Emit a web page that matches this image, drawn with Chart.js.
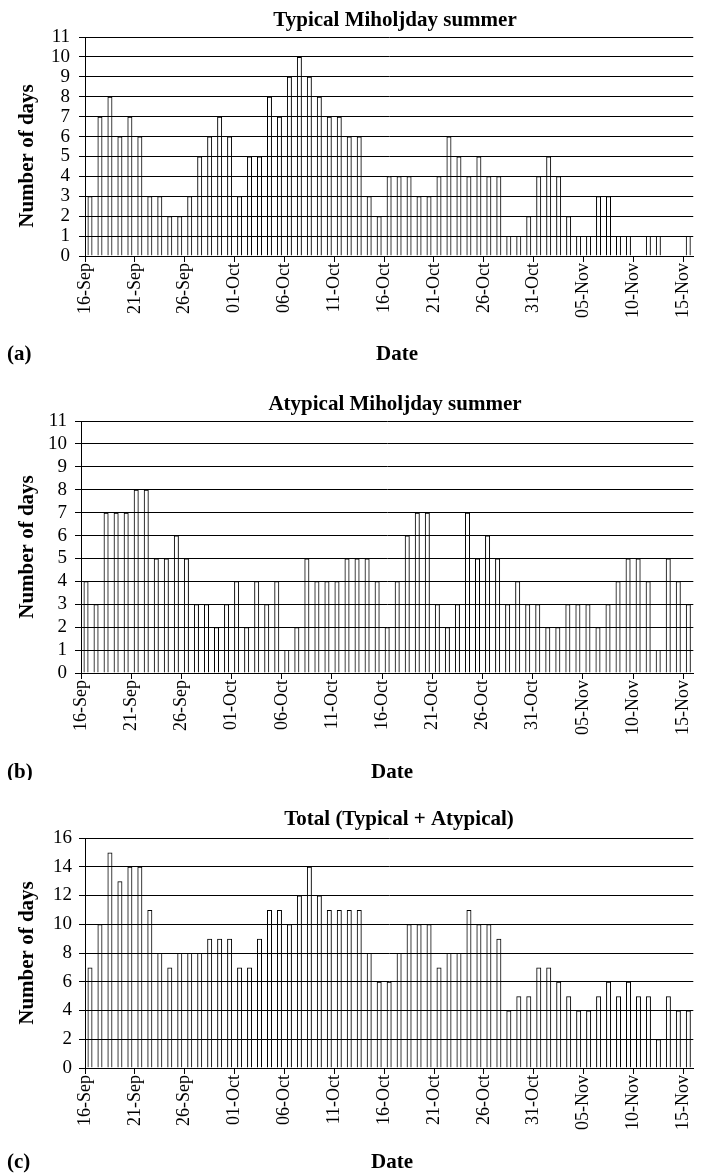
<!DOCTYPE html>
<html>
<head>
<meta charset="utf-8">
<script src="https://cdn.jsdelivr.net/npm/chart.js@4.4.1/dist/chart.umd.min.js"></script>
<style>
  html, body { margin: 0; padding: 0; background: #fff; overflow: hidden; width: 701px; height: 1175px; }
  .panel { position: absolute; left: 0; }
  .panel canvas { display: block; }
</style>
</head>
<body>
<div class="panel" style="top:0"><canvas id="chartA" width="706" height="380"></canvas></div>
<div class="panel" style="top:380px"><canvas id="chartB" width="706" height="400"></canvas></div>
<div class="panel" style="top:780px"><canvas id="chartC" width="706" height="395"></canvas></div>
<script>
// Calendar days, 16 September to 15 November
const dates = [
  '16-Sep','17-Sep','18-Sep','19-Sep','20-Sep','21-Sep','22-Sep','23-Sep','24-Sep','25-Sep',
  '26-Sep','27-Sep','28-Sep','29-Sep','30-Sep','01-Oct','02-Oct','03-Oct','04-Oct','05-Oct',
  '06-Oct','07-Oct','08-Oct','09-Oct','10-Oct','11-Oct','12-Oct','13-Oct','14-Oct','15-Oct',
  '16-Oct','17-Oct','18-Oct','19-Oct','20-Oct','21-Oct','22-Oct','23-Oct','24-Oct','25-Oct',
  '26-Oct','27-Oct','28-Oct','29-Oct','30-Oct','31-Oct','01-Nov','02-Nov','03-Nov','04-Nov',
  '05-Nov','06-Nov','07-Nov','08-Nov','09-Nov','10-Nov','11-Nov','12-Nov','13-Nov','14-Nov',
  '15-Nov'
];

// Labelled dates on the horizontal axis
const tickLabels = ['16-Sep','21-Sep','26-Sep','01-Oct','06-Oct','11-Oct','16-Oct',
                    '21-Oct','26-Oct','31-Oct','05-Nov','10-Nov','15-Nov'];

// Vertical axis ticks
const yTicksSeason = [0,1,2,3,4,5,6,7,8,9,10,11];
const yTicksTotal = [0,2,4,6,8,10,12,14,16];

// Number of days per calendar date
const typical = [
  3,7,8,6,7,6,3,3,2,2, 3,5,6,7,6,3,5,5,8,7,
  9,10,9,8,7,7,6,6,3,2, 4,4,4,3,3,4,6,5,4,5,
  4,4,1,1,2,4,5,4,2,1, 1,3,3,1,1,0,1,1,0,0,
  1
];
const atypical = [
  4,3,7,7,7,8,8,5,5,6, 5,3,3,2,3,4,2,4,3,4,
  1,2,5,4,4,4,5,5,5,4, 2,4,6,7,7,3,2,3,7,5,
  6,5,3,4,3,3,2,2,3,3, 3,2,3,4,5,5,4,1,5,4,
  3
];
const total = [
  7,10,15,13,14,14,11,8,7,8, 8,8,9,9,9,7,7,9,11,11,
  10,12,14,12,11,11,11,11,8,6, 6,8,10,10,10,7,8,8,11,10,
  10,9,4,5,5,7,7,6,5,4, 4,5,6,5,6,5,5,2,5,4,
  4
];

const SERIF = "'Liberation Serif', 'Times New Roman', Times, serif";
const tickPositions = tickLabels.map(l => dates.indexOf(l));

// Titles, axis captions and panel letter
const panelText = {
  id: 'panelText',
  afterDraw(chart, args, o) {
    const ctx = chart.ctx;
    ctx.save();
    ctx.fillStyle = '#000';
    ctx.font = 'bold ' + o.size + 'px ' + SERIF;
    ctx.textBaseline = 'alphabetic';
    ctx.textAlign = 'center';
    ctx.fillText(o.title, o.titleX, o.titleY);
    ctx.fillText('Date', o.dateX, o.dateY);
    ctx.textAlign = 'left';
    ctx.fillText(o.letter, o.letterX, o.dateY);
    ctx.translate(o.yTitleX, o.yTitleY);
    ctx.rotate(-Math.PI / 2);
    ctx.textAlign = 'center';
    ctx.fillText('Number of days', 0, 0);
    ctx.restore();
  }
};

function makePanel(id, p) {
  new Chart(document.getElementById(id), {
    type: 'bar',
    data: {
      datasets: [{
        data: p.values.map((v, i) => ({ x: i + 0.5, y: v })),
        backgroundColor: 'rgba(255,255,255,0)',
        borderColor: '#000',
        borderWidth: 1,
        borderSkipped: 'bottom',
        categoryPercentage: 1,
        barPercentage: 0.5
      }]
    },
    options: {
      responsive: false,
      animation: false,
      events: [],
      layout: { padding: { top: p.padTop, right: p.padRight, left: 0, bottom: 0 } },
      plugins: {
        legend: { display: false },
        tooltip: { enabled: false },
        panelText: p.text
      },
      scales: {
        x: {
          type: 'linear',
          offset: false,
          min: 0,
          max: dates.length,
          afterBuildTicks: s => { s.ticks = tickPositions.map(v => ({ value: v })); },
          afterFit: s => { s.height = p.xHeight; },
          ticks: {
            callback: v => dates[v],
            autoSkip: false,
            minRotation: 90,
            maxRotation: 90,
            padding: 1,
            color: '#000',
            font: { family: SERIF, size: p.xFont }
          },
          grid: { offset: false, drawOnChartArea: false, drawTicks: true, tickLength: 6, color: '#000', lineWidth: 1 },
          border: { display: true, color: '#000', width: 1 }
        },
        y: {
          min: 0,
          max: p.yTicks[p.yTicks.length - 1],
          afterBuildTicks: s => { s.ticks = p.yTicks.map(v => ({ value: v })); },
          afterFit: s => { s.width = p.yWidth; },
          ticks: {
            autoSkip: false,
            padding: p.yPad,
            color: '#000',
            font: { family: SERIF, size: p.yFont }
          },
          grid: { color: '#000', lineWidth: 1, drawTicks: true, tickLength: 6 },
          border: { display: true, color: '#000', width: 1 }
        }
      }
    },
    plugins: [panelText]
  });
}

makePanel('chartA', {
  values: typical, yTicks: yTicksSeason,
  padTop: 37, padRight: 7, yWidth: 85, xHeight: 124,
  xFont: 18, yFont: 19, yPad: 9,
  text: { size: 21, title: 'Typical Miholjday summer', titleX: 395, titleY: 26,
          dateX: 397, dateY: 360, letter: '(a)', letterX: 7, yTitleX: 33, yTitleY: 156 }
});

makePanel('chartB', {
  values: atypical, yTicks: yTicksSeason,
  padTop: 41, padRight: 6, yWidth: 81, xHeight: 107,
  xFont: 18, yFont: 19, yPad: 8,
  text: { size: 21, title: 'Atypical Miholjday summer', titleX: 395, titleY: 30,
          dateX: 392, dateY: 398, letter: '(b)', letterX: 7, yTitleX: 33, yTitleY: 167 }
});

makePanel('chartC', {
  values: total, yTicks: yTicksTotal,
  padTop: 58, padRight: 3, yWidth: 85, xHeight: 107,
  xFont: 18, yFont: 19, yPad: 7,
  text: { size: 21, title: 'Total (Typical + Atypical)', titleX: 399, titleY: 45,
          dateX: 392, dateY: 388, letter: '(c)', letterX: 7, yTitleX: 33, yTitleY: 173 }
});
</script>
</body>
</html>
